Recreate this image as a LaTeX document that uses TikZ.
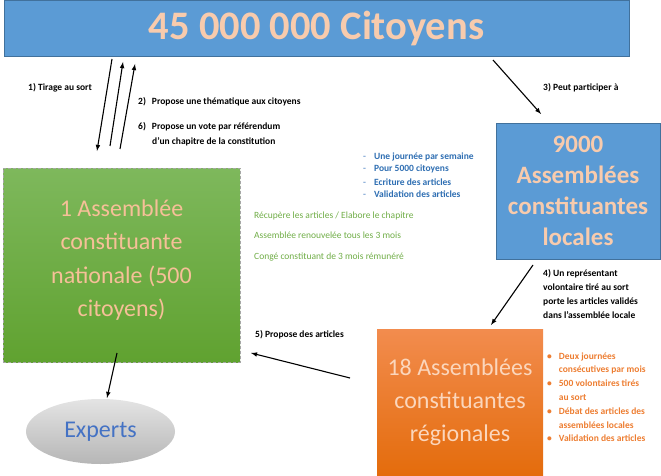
\documentclass[tikz,border=0pt]{standalone}
\usepackage{fontspec}
\setmainfont{Carlito}
\usepackage{tikz}
\usetikzlibrary{positioning}
\usetikzlibrary{arrows}
\usetikzlibrary{shapes}
\definecolor{boxblue}{RGB}{91,155,213}
\definecolor{boxblueline}{RGB}{65,113,156}
\definecolor{peach}{RGB}{248,203,173}
\definecolor{greenpeach}{RGB}{246,192,152}
\definecolor{lightpeach}{RGB}{251,214,188}
\definecolor{greentop}{RGB}{126,184,92}
\definecolor{greenbot}{RGB}{96,162,48}
\definecolor{orangetop}{RGB}{242,140,78}
\definecolor{orangebot}{RGB}{228,108,12}
\definecolor{greytop}{RGB}{228,228,228}
\definecolor{greybot}{RGB}{182,182,182}
\definecolor{textblue}{RGB}{46,110,178}
\definecolor{dashblue}{RGB}{120,160,210}
\definecolor{textgreen}{RGB}{112,173,71}
\definecolor{textorange}{RGB}{237,125,49}
\definecolor{expertblue}{RGB}{68,114,196}

\begin{document}
\begin{tikzpicture}[x=1pt,y=-1pt,>=latex,
  assemb/.style={rectangle,align=center,inner sep=0pt},
  lbl/.style={anchor=base west,inner sep=0pt,align=left,font=\fontsize{9.5}{14}\selectfont\bfseries},
  flow/.style={->,line width=1.1pt}]

\useasboundingbox (0,0) rectangle (661,476);

\node[assemb,fill=boxblue,draw=boxblueline,minimum width=625,minimum height=56,text=peach,font=\fontsize{40.5}{40.5}\selectfont\bfseries] (citoyens) at (316.5,28) {45 000 000 Citoyens};

\node[assemb,minimum width=237,minimum height=194,top color=greentop,bottom color=greenbot,draw=gray!70,densely dashed,line width=0.6pt] (nationale) at (121.5,265) {};
\node[assemb,text=greenpeach,font=\fontsize{24}{33.5}\selectfont] (nationaletxt) at (121.5,260) {1 Assemblée\\constituante\\nationale (500\\citoyens)};

\node[assemb,fill=boxblue,draw=boxblueline,minimum width=164,minimum height=136,text=peach,font=\fontsize{25}{31}\selectfont\bfseries] (locales) at (578,191) {9000\\Assemblées\\constituantes\\locales};

\node[assemb,minimum width=166,minimum height=146,top color=orangetop,bottom color=orangebot,text=lightpeach,font=\fontsize{24}{33}\selectfont] (regionales) at (460,402) {18 Assemblées\\constituantes\\régionales};

\node[ellipse,minimum width=149,minimum height=65,inner sep=0pt,top color=greytop,bottom color=greybot,text=expertblue,font=\fontsize{24}{24}\selectfont] (experts) at (100.5,431.5) {Experts};

\node[lbl] (tirage) at (28,91) {1) Tirage au sort};
\node[lbl] (theme) at (138,104.5) {2)\hspace{6pt}Propose une thématique aux citoyens};
\node[lbl] (vote) at (138,144) {6)\hspace{6pt}Propose un vote par référendum\\\hspace*{14pt}d’un chapitre de la constitution};
\node[lbl] (participer) at (543,91) {3) Peut participer à};
\node[lbl] (representant) at (543,318) {4) Un représentant\\volontaire tiré au sort\\porte les articles validés\\dans l’assemblée locale};
\node[lbl] (articles) at (255,337.5) {5) Propose des articles};

\node[lbl,text=textblue] (semaine) at (363,159) {\fontsize{9.5}{13}\selectfont
  \begin{tabular}[t]{@{}l@{\hspace{8pt}}l@{}}
  \textcolor{dashblue}{-} & Une journée par semaine\\
  \textcolor{dashblue}{-} & Pour 5000 citoyens\\
  \textcolor{dashblue}{-} & Ecriture des articles\\
  \textcolor{dashblue}{-} & Validation des articles
  \end{tabular}};

\node[lbl,text=textgreen,font=\fontsize{9.5}{20.5}\selectfont] (chapitre) at (254,259) {Récupère les articles / Elabore le chapitre\\Assemblée renouvelée tous les 3 mois\\Congé constituant de 3 mois rémunéré};

\node[lbl,text=textorange] (mois) at (547,359) {\fontsize{9.5}{13.8}\selectfont
  \begin{tabular}[t]{@{}l@{\hspace{7pt}}l@{}}
  \textbullet & Deux journées\\
   & consécutives par mois\\
  \textbullet & 500 volontaires tirés\\
   & au sort\\
  \textbullet & Débat des articles des\\
   & assemblées locales\\
  \textbullet & Validation des articles
  \end{tabular}};

\coordinate (tirA) at (112,59);
\coordinate (tirB) at (97,151);
\coordinate (themeA) at (110,146);
\coordinate (themeB) at (123,62);
\coordinate (voteA) at (120,149);
\coordinate (voteB) at (135,64);
\coordinate (partA) at (493,60);
\coordinate (partB) at (541,114);
\coordinate (repA) at (533,265);
\coordinate (repB) at (491,325);
\coordinate (artA) at (350,378);
\coordinate (artB) at (251,353);
\coordinate (expA) at (117,353);
\coordinate (expB) at (107,398);

\draw[flow] (tirA) -- (tirB);
\draw[flow] (themeA) -- (themeB);
\draw[flow] (voteA) -- (voteB);
\draw[flow] (partA) -- (partB);
\draw[flow] (repA) -- (repB);
\draw[flow] (artA) -- (artB);
\draw[flow] (expA) -- (expB);
\end{tikzpicture}
\end{document}
